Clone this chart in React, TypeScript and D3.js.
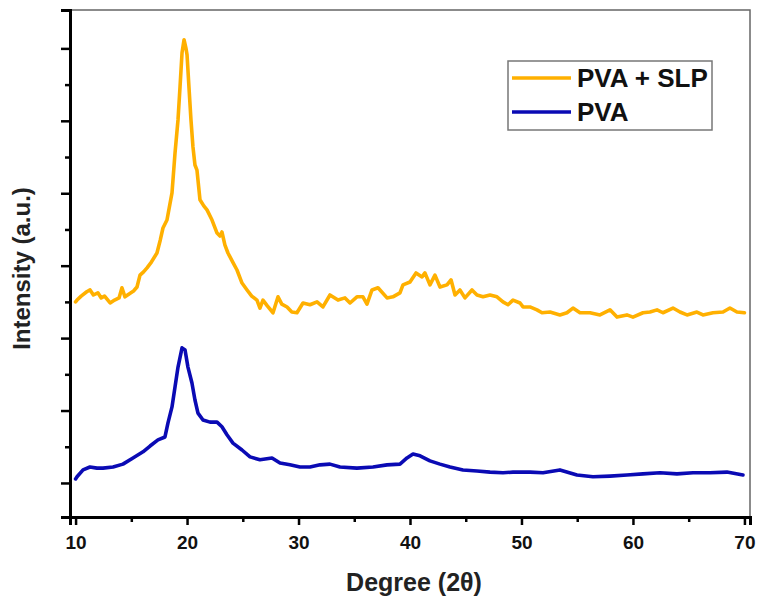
import { useRef, useEffect } from 'react'
import * as d3 from 'd3'

// PVA + SLP (2θ in degrees, intensity a.u.)
const slpAngle = [10.0, 10.13, 10.5, 11.0, 11.3, 11.6, 12.0, 12.3, 12.6, 13.1, 13.5, 13.9, 14.16, 14.43, 14.8, 15.2, 15.51, 15.78, 16.1, 16.41, 16.8, 17.3, 17.6, 17.84, 18.2, 18.45, 18.65, 18.92, 19.19, 19.37, 19.55, 19.73, 19.9, 20.0, 20.17, 20.35, 20.53, 20.71, 20.89, 21.16, 21.5, 21.79, 22.24, 22.69, 22.95, 23.13, 23.4, 23.67, 24.1, 24.48, 24.93, 25.38, 25.8, 26.27, 26.54, 26.81, 27.2, 27.71, 28.16, 28.5, 28.97, 29.4, 29.86, 30.4, 31.03, 31.66, 32.19, 32.82, 33.54, 34.17, 34.62, 35.24, 35.78, 36.14, 36.59, 37.13, 37.94, 38.47, 39.1, 39.37, 40.0, 40.54, 41.08, 41.34, 41.79, 42.24, 42.69, 43.32, 43.68, 44.04, 44.48, 44.93, 45.56, 46.01, 46.55, 47.18, 47.8, 48.34, 48.79, 49.24, 49.87, 50.14, 50.76, 51.39, 51.84, 52.56, 53.45, 54.08, 54.62, 55.25, 56.15, 57.04, 57.94, 58.57, 59.46, 60.0, 60.9, 61.53, 62.16, 62.69, 63.59, 64.22, 64.85, 65.74, 66.28, 67.18, 68.08, 68.7, 69.33, 70.0]
const slpIntensity = [500, 505, 516, 528, 533, 519, 525, 511, 516, 497, 505, 511, 539, 514, 522, 530, 541, 574, 583, 594, 610, 635, 671, 704, 726, 768, 801, 911, 1003, 1094, 1188, 1224, 1201, 1182, 1094, 1003, 928, 878, 864, 782, 765, 754, 726, 690, 682, 693, 657, 635, 610, 588, 552, 533, 516, 505, 483, 505, 489, 470, 514, 494, 486, 472, 470, 497, 492, 500, 486, 519, 505, 511, 497, 514, 514, 494, 533, 539, 511, 514, 525, 547, 555, 580, 569, 580, 547, 574, 541, 547, 561, 519, 533, 511, 533, 519, 514, 519, 514, 500, 492, 505, 497, 486, 486, 478, 470, 472, 464, 470, 483, 470, 470, 464, 478, 458, 464, 458, 470, 472, 478, 470, 483, 472, 464, 472, 464, 470, 472, 483, 472, 470]

// PVA
const pvaAngle = [10.0, 10.13, 10.67, 11.29, 11.92, 12.46, 13.36, 14.25, 15.15, 16.05, 16.68, 17.39, 18.02, 18.29, 18.65, 18.92, 19.19, 19.55, 19.82, 20.08, 20.44, 20.71, 20.98, 21.43, 22.06, 22.69, 23.13, 23.58, 24.12, 24.93, 25.65, 26.54, 27.62, 28.34, 29.23, 30.13, 31.03, 31.93, 32.82, 33.72, 35.24, 36.68, 37.94, 39.1, 39.73, 40.27, 40.9, 41.79, 42.69, 43.59, 44.75, 46.01, 47.18, 48.34, 49.24, 50.76, 51.93, 53.45, 54.98, 56.41, 57.94, 59.46, 60.9, 62.43, 63.95, 65.39, 66.91, 68.43, 69.87]
const pvaIntensity = [11, 17, 36, 44, 41, 41, 44, 52, 69, 86, 102, 119, 127, 166, 210, 265, 320, 373, 367, 320, 276, 229, 193, 174, 168, 168, 155, 133, 110, 91, 72, 64, 69, 55, 50, 44, 44, 50, 52, 44, 41, 44, 50, 52, 69, 80, 75, 61, 52, 44, 36, 33, 30, 28, 30, 30, 28, 36, 22, 17, 19, 22, 25, 28, 25, 28, 28, 30, 22]

const xTicks = [10, 20, 30, 40, 50, 60, 70]
const xMinorTicks = [15, 25, 35, 45, 55, 65]
const yTicks = [0, 200, 400, 600, 800, 1000, 1200]
const yMinorTicks = [100, 300, 500, 700, 900, 1100]

const seriesNames = ['PVA + SLP', 'PVA']
const seriesColors = ['#FFB000', '#0A0AB4']

const App = () => {
  const svgRef = useRef<SVGSVGElement>(null)

  useEffect(() => {
    const width = 757
    const height = 605
    const left = 70, right = 750, top = 10, bottom = 517
    const font = '"Liberation Sans", Arial, sans-serif'

    const svg = d3.select(svgRef.current).attr('width', width).attr('height', height)
    svg.selectAll('*').remove()
    svg.append('rect').attr('width', width).attr('height', height).attr('fill', '#fff')

    const x = d3.scaleLinear().domain([9.5, 70.5]).range([left, right])
    const y = d3.scaleLinear().domain([-94, 1306]).range([bottom, top])

    // kehys (ohut ylä- ja oikea reuna)
    svg.append('rect')
      .attr('x', left).attr('y', top)
      .attr('width', right - left).attr('height', bottom - top)
      .attr('fill', 'none').attr('stroke', '#666').attr('stroke-width', 1.5)

    // käyrät
    const line = d3.line<[number, number]>()
      .x(d => x(d[0]))
      .y(d => y(d[1]))

    const slpData = slpAngle.map((a, i) => [a, slpIntensity[i]] as [number, number])
    const pvaData = pvaAngle.map((a, i) => [a, pvaIntensity[i]] as [number, number])

    ;[slpData, pvaData].forEach((data, i) => {
      svg.append('path')
        .datum(data)
        .attr('d', line)
        .attr('fill', 'none')
        .attr('stroke', seriesColors[i])
        .attr('stroke-width', 3.6)
        .attr('stroke-linejoin', 'round')
        .attr('stroke-linecap', 'round')
    })

    // x-akseli
    svg.append('g')
      .attr('transform', `translate(0, ${bottom})`)
      .call(d3.axisBottom(x).tickValues(xMinorTicks).tickSize(5).tickFormat(() => ''))
      .call(g => g.select('.domain').remove())
      .call(g => g.selectAll('.tick line').attr('stroke', '#000').attr('stroke-width', 2.5))

    svg.append('g')
      .attr('transform', `translate(0, ${bottom})`)
      .call(d3.axisBottom(x).tickValues(xTicks).tickSize(8).tickPadding(11).tickFormat(d3.format('d')))
      .call(g => g.select('.domain').attr('stroke', '#000').attr('stroke-width', 3))
      .call(g => g.selectAll('.tick line').attr('stroke', '#000').attr('stroke-width', 2.5))
      .call(g => g.selectAll('text')
        .attr('fill', '#111')
        .style('font-family', font)
        .style('font-size', '19px')
        .style('font-weight', 'bold'))

    // y-akseli (ei numeroita)
    svg.append('g')
      .attr('transform', `translate(${left}, 0)`)
      .call(d3.axisLeft(y).tickValues(yMinorTicks).tickSize(5).tickFormat(() => ''))
      .call(g => g.select('.domain').remove())
      .call(g => g.selectAll('.tick line').attr('stroke', '#000').attr('stroke-width', 2.5))

    svg.append('g')
      .attr('transform', `translate(${left}, 0)`)
      .call(d3.axisLeft(y).tickValues(yTicks).tickSize(9).tickFormat(() => ''))
      .call(g => g.select('.domain').attr('stroke', '#000').attr('stroke-width', 3))
      .call(g => g.selectAll('.tick line').attr('stroke', '#000').attr('stroke-width', 2.5))

    // akselien otsikot
    svg.append('text')
      .attr('x', (left + right) / 2 + 4)
      .attr('y', 591)
      .attr('text-anchor', 'middle')
      .attr('fill', '#222')
      .style('font-family', font)
      .style('font-size', '25px')
      .style('font-weight', 'bold')
      .text('Degree (2θ)')

    svg.append('text')
      .attr('transform', `translate(30, ${(top + bottom) / 2 + 5}) rotate(-90)`)
      .attr('text-anchor', 'middle')
      .attr('fill', '#222')
      .style('font-family', font)
      .style('font-size', '24px')
      .style('font-weight', 'bold')
      .text('Intensity (a.u.)')

    // selite
    const legend = svg.append('g')
    legend.append('rect')
      .attr('x', 508).attr('y', 61)
      .attr('width', 204).attr('height', 69)
      .attr('fill', '#fff').attr('stroke', '#777').attr('stroke-width', 1.5)

    seriesNames.forEach((name, i) => {
      const ly = 78 + i * 34
      legend.append('line')
        .attr('x1', 512).attr('x2', 571)
        .attr('y1', ly).attr('y2', ly)
        .attr('stroke', seriesColors[i]).attr('stroke-width', 3.5)
      legend.append('text')
        .attr('x', 577).attr('y', ly + 9)
        .attr('fill', '#111')
        .style('font-family', font)
        .style('font-size', '26px')
        .style('font-weight', 'bold')
        .text(name)
    })
  }, [])

  return <svg ref={svgRef} style={{ position: 'absolute', left: 0, top: 0, display: 'block' }}></svg>
}

export default App
